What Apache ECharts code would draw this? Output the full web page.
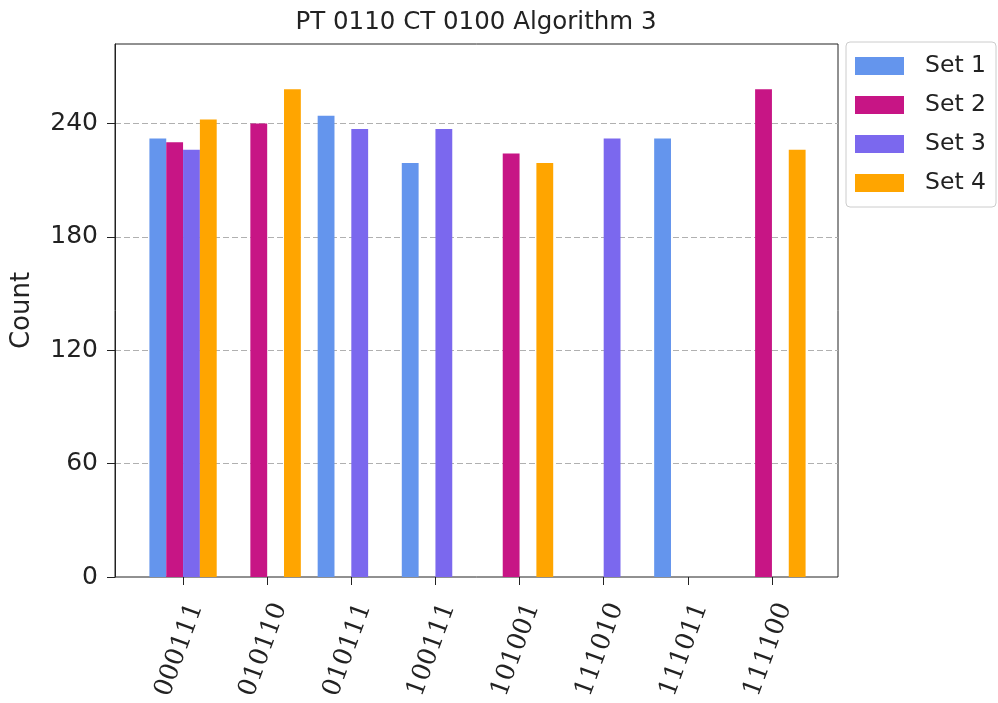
<!DOCTYPE html>
<html>
<head>
<meta charset="utf-8">
<script src="https://cdn.jsdelivr.net/npm/echarts@6/dist/echarts.min.js"></script>
<style>
html,body{margin:0;padding:0;background:#fff;}
#chart{width:998px;height:703px;}
</style>
</head>
<body>
<div id="chart"></div>
<script>
const categories = ['000111','010110','010111','100111','101001','111010','111011','111100'];
const set1 = [232, 0, 244, 219, 0, 0, 232, 0];
const set2 = [230, 240, 0, 0, 224, 0, 0, 258];
const set3 = [226, 0, 237, 237, 0, 232, 0, 0];
const set4 = [242, 258, 0, 0, 219, 0, 0, 226];
const seriesNames = ['Set 1','Set 2','Set 3','Set 4'];
const yTicks = [0, 60, 120, 180, 240];
const titleText = 'PT 0110 CT 0100 Algorithm 3';
const yName = 'Count';

const colors = ['#6495ED','#C71585','#7B68EE','#FFA500'];
const yMax = 282;

const chart = echarts.init(document.getElementById('chart'), null, {renderer:'canvas'});
const seriesData = [set1, set2, set3, set4];

const option = {
  animation: false,
  color: colors,
  title: {
    text: titleText,
    left: 471, top: 5, textAlign: 'center',
    textStyle: {fontFamily: 'DejaVu Sans', fontSize: 24.5, fontWeight: 'normal', color: '#222'}
  },
  legend: {
    orient: 'vertical',
    left: 846, top: 42,
    padding: [12, 10, 12, 9],
    itemWidth: 49, itemHeight: 18, itemGap: 15,
    icon: 'rect',
    borderColor: '#cccccc', borderWidth: 1, borderRadius: 4,
    backgroundColor: '#fff',
    textStyle: {fontFamily: 'DejaVu Sans', fontSize: 23.5, color: '#222', padding: [0,0,0,16]},
    data: seriesNames
  },
  grid: [
    {left: 115, top: 44, width: 723, height: 533, show: true, borderColor: '#222', borderWidth: 1, backgroundColor: 'transparent'},
    {left: 141, top: 44, width: 673, height: 533},
    {left: 154, top: 44, width: 673, height: 533}
  ],
  xAxis: [
    {gridIndex: 0, type: 'value', min: 0, max: 1, show: false},
    {gridIndex: 1, type: 'category', data: categories,
     axisLine: {show: false},
     axisTick: {show: true, alignWithLabel: true, length: 8, lineStyle: {color: '#222'}},
     axisLabel: {show: false}},
    {gridIndex: 2, type: 'category', data: categories,
     axisLine: {show: false}, axisTick: {show: false},
     axisLabel: {show: true, rotate: 70, margin: 27, interval: 0,
       fontFamily: 'DejaVu Serif', fontSize: 25.5, color: '#222'}}
  ],
  yAxis: [
    {gridIndex: 0, type: 'value', min: 0, max: yMax, interval: 60,
     name: yName, nameLocation: 'middle', nameGap: 80,
     nameTextStyle: {fontFamily: 'DejaVu Sans', fontSize: 26, color: '#222'},
     axisLine: {show: true, lineStyle: {color: '#222'}},
     axisTick: {show: true, length: 8, customValues: yTicks, lineStyle: {color: '#222'}},
     axisLabel: {margin: 17, customValues: yTicks, fontFamily: 'DejaVu Sans', fontSize: 25, color: '#222'},
     splitLine: {show: true, showMinLine: false, showMaxLine: true, lineStyle: {color: '#b0b0b0', type: [6, 3], width: 1}}},
    {gridIndex: 1, type: 'value', min: 0, max: yMax, show: false},
    {gridIndex: 2, type: 'value', min: 0, max: yMax, show: false}
  ],
  series: seriesNames.map((name, i) => ({
    name: name,
    type: 'bar',
    xAxisIndex: 1, yAxisIndex: 1,
    data: seriesData[i],
    barGap: '0%',
    barCategoryGap: '20%',
    itemStyle: {color: colors[i]}
  }))
};
chart.setOption(option);
</script>
</body>
</html>
